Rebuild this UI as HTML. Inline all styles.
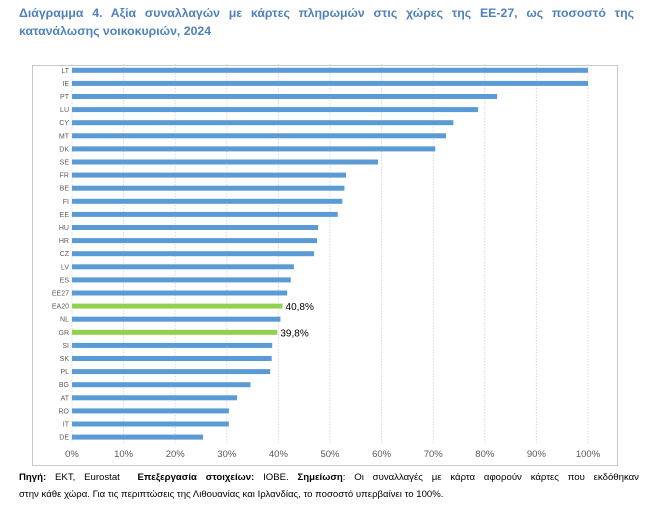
<!DOCTYPE html>
<html><head><meta charset="utf-8"><style>
body{margin:0;width:658px;height:511px;background:#fff;font-family:"Liberation Sans",sans-serif;position:relative;overflow:hidden}
#title{position:absolute;left:19px;top:4px;width:615px;font-size:12.3px;font-weight:bold;color:#4f81bd;line-height:18px;text-align:justify;text-align-last:left}
#foot{position:absolute;left:19px;top:469px;width:620px;font-size:9.6px;color:#000;line-height:17px}
#foot .l1{text-align:justify;text-align-last:justify;white-space:nowrap}
svg{position:absolute;left:0;top:0}
</style></head><body>
<div id="title">Διάγραμμα 4. Αξία συναλλαγών με κάρτες πληρωμών στις χώρες της ΕΕ-27, ως ποσοστό της κατανάλωσης νοικοκυριών, 2024</div>
<svg id="chart" width="658" height="511"></svg>
<div id="foot"><div class="l1"><b>Πηγή:</b> ΕΚΤ, Eurostat &nbsp;<b>Επεξεργασία στοιχείων:</b> ΙΟΒΕ. <b>Σημείωση</b>: Οι συναλλαγές με κάρτα αφορούν κάρτες που εκδόθηκαν</div><div>στην κάθε χώρα. Για τις περιπτώσεις της Λιθουανίας και Ιρλανδίας, το ποσοστό υπερβαίνει το 100%.</div></div>
<script>
const categories=["LT","IE","PT","LU","CY","MT","DK","SE","FR","BE","FI","EE","HU","HR","CZ","LV","ES","EE27","EA20","NL","GR","SI","SK","PL","BG","AT","RO","IT","DE"];
const values=[100,100,82.4,78.7,73.9,72.5,70.4,59.3,53.1,52.8,52.4,51.5,47.7,47.5,46.9,43.0,42.4,41.7,40.8,40.4,39.8,38.8,38.7,38.4,34.6,32.0,30.4,30.4,25.4];
const highlighted=["EA20","GR"];
const valueLabels={"EA20":"40,8%","GR":"39,8%"};
const ticks=[0,10,20,30,40,50,60,70,80,90,100];
const svg=document.getElementById('chart');
const NS='http://www.w3.org/2000/svg';
const x0=72,x1=588,yTop=70.3,step=13.1;
const X=v=>x0+(x1-x0)*v/100;
const Y=i=>yTop+i*step;
function mk(t,a){const e=document.createElementNS(NS,t);for(const k in a)e.setAttribute(k,a[k]);svg.appendChild(e);return e;}
const box=mk('rect',{x:32.5,y:65.5,width:585,height:400,fill:'none',stroke:'#c8c8c8'});


ticks.forEach(t=>{
 const g=mk('line',{x1:X(t),x2:X(t),y1:64,y2:443,stroke:'#d9d9d9','stroke-dasharray':'1.5,1.5','stroke-width':1});
 
 
 const l=mk('text',{x:X(t),y:457,'text-anchor':'middle','font-size':9.5,fill:'#595959'});
 l.textContent=t+'%';
 
 
});
categories.forEach((c,i)=>{
 const hl=highlighted.includes(c);
 const r=mk('rect',{x:x0,y:Y(i)-2.5,width:X(values[i])-x0,height:5,fill:hl?'#92d050':'#5b9bd5'});
 
 
 const t=mk('text',{x:69,y:Y(i)+2.5,'text-anchor':'end','font-size':7,fill:'#595959'});
 t.textContent=c;
 
 
 if(valueLabels[c]){
  const v=mk('text',{x:X(values[i])+3,y:Y(i)+4,'font-size':10,fill:'#000'});
  v.textContent=valueLabels[c];
  
  
 }
});
</script>
</body></html>
